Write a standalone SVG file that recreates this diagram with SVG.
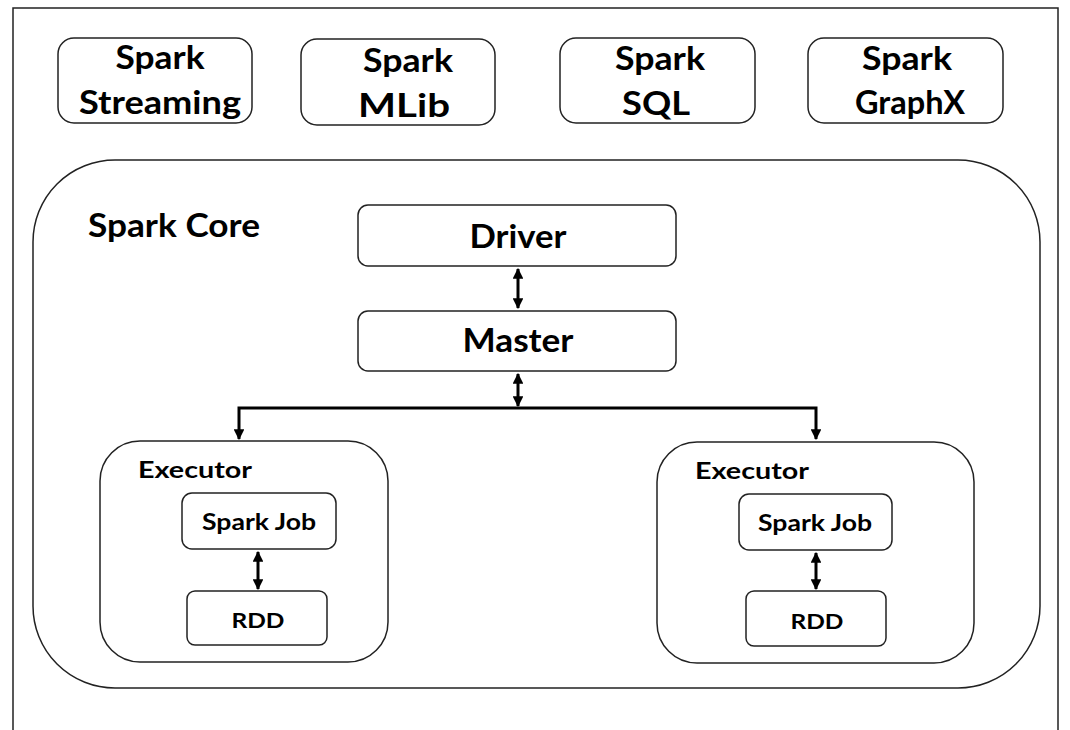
<svg xmlns="http://www.w3.org/2000/svg" width="1070" height="730" viewBox="0 0 1070 730">
  <defs>
    <marker id="ah" viewBox="0 0 10 10" refX="9" refY="5" markerWidth="3.6" markerHeight="3.6" orient="auto-start-reverse" markerUnits="strokeWidth">
      <path d="M0,0 L10,5 L0,10 z" fill="#000"/>
    </marker>
    <style>
      .box { fill: #fff; stroke: #222; stroke-width: 1.5; }
      .t { font-family: Lato, "Open Sans", "Liberation Sans", sans-serif; font-weight: bold; fill: #000; }
      .c { text-anchor: middle; }
      .conn { fill: none; stroke: #000; stroke-width: 3; }
    </style>
  </defs>
  <rect width="1070" height="730" fill="#fff"/>
  <!-- outer frame (open at the bottom) -->
  <path d="M13,730 L13,8 L1058,8 L1058,730" fill="none" stroke="#222" stroke-width="1.5"/>

  <g id="streaming">
    <rect class="box" x="58" y="38" width="194" height="85" rx="16"/>
    <text class="t c" x="160" y="69" font-size="33" textLength="89" lengthAdjust="spacingAndGlyphs">Spark</text>
    <text class="t c" x="160" y="114" font-size="33" textLength="162" lengthAdjust="spacingAndGlyphs">Streaming</text>
  </g>
  <g id="mlib">
    <rect class="box" x="301" y="39" width="194" height="86" rx="16"/>
    <text class="t c" x="408" y="72" font-size="33" textLength="90" lengthAdjust="spacingAndGlyphs">Spark</text>
    <text class="t c" x="404" y="117" font-size="33" textLength="92" lengthAdjust="spacingAndGlyphs">MLib</text>
  </g>
  <g id="sql">
    <rect class="box" x="560" y="38" width="195" height="85" rx="16"/>
    <text class="t c" x="660" y="70" font-size="33" textLength="90" lengthAdjust="spacingAndGlyphs">Spark</text>
    <text class="t c" x="656" y="115" font-size="33" textLength="68" lengthAdjust="spacingAndGlyphs">SQL</text>
  </g>
  <g id="graphx">
    <rect class="box" x="808" y="38" width="195" height="85" rx="16"/>
    <text class="t c" x="907" y="70" font-size="33" textLength="90" lengthAdjust="spacingAndGlyphs">Spark</text>
    <text class="t c" x="910" y="114" font-size="33" textLength="110" lengthAdjust="spacingAndGlyphs">GraphX</text>
  </g>

  <g id="core">
    <rect class="box" x="33" y="160" width="1007" height="528" rx="82"/>
    <text class="t" x="88" y="237" font-size="33" textLength="172" lengthAdjust="spacingAndGlyphs">Spark Core</text>
  </g>
  <g id="driver">
    <rect class="box" x="358" y="205" width="318" height="61" rx="10"/>
    <text class="t c" x="518" y="248" font-size="32" textLength="97" lengthAdjust="spacingAndGlyphs">Driver</text>
  </g>
  <g id="master">
    <rect class="box" x="358" y="311" width="318" height="60" rx="10"/>
    <text class="t c" x="518" y="352" font-size="32" textLength="111" lengthAdjust="spacingAndGlyphs">Master</text>
  </g>

  <g id="executor1">
    <rect class="box" x="100" y="441" width="288" height="221" rx="40"/>
    <text class="t" x="138" y="478" font-size="22" textLength="114" lengthAdjust="spacingAndGlyphs">Executor</text>
  </g>
  <g id="job1">
    <rect class="box" x="182" y="493" width="154" height="56" rx="10"/>
    <text class="t c" x="259" y="530" font-size="23" textLength="114" lengthAdjust="spacingAndGlyphs">Spark Job</text>
  </g>
  <g id="rdd1">
    <rect class="box" x="187" y="591" width="140" height="54" rx="8"/>
    <text class="t c" x="258" y="628" font-size="21" textLength="53" lengthAdjust="spacingAndGlyphs">RDD</text>
  </g>

  <g id="executor2">
    <rect class="box" x="657" y="442" width="317" height="221" rx="40"/>
    <text class="t" x="695" y="479" font-size="22" textLength="114" lengthAdjust="spacingAndGlyphs">Executor</text>
  </g>
  <g id="job2">
    <rect class="box" x="739" y="494" width="153" height="56" rx="10"/>
    <text class="t c" x="815" y="531" font-size="23" textLength="114" lengthAdjust="spacingAndGlyphs">Spark Job</text>
  </g>
  <g id="rdd2">
    <rect class="box" x="746" y="591" width="140" height="55" rx="8"/>
    <text class="t c" x="817" y="629" font-size="21" textLength="53" lengthAdjust="spacingAndGlyphs">RDD</text>
  </g>

  <g id="connectors">
    <line class="conn" x1="518" y1="269" x2="518" y2="308" marker-start="url(#ah)" marker-end="url(#ah)"/>
    <line class="conn" x1="518" y1="374" x2="518" y2="406" marker-start="url(#ah)" marker-end="url(#ah)"/>
    <polyline class="conn" points="239,439 239,408 816,408 816,439" marker-start="url(#ah)" marker-end="url(#ah)"/>
    <line class="conn" x1="258" y1="552" x2="258" y2="589" marker-start="url(#ah)" marker-end="url(#ah)"/>
    <line class="conn" x1="816" y1="553" x2="816" y2="589" marker-start="url(#ah)" marker-end="url(#ah)"/>
  </g>
</svg>
